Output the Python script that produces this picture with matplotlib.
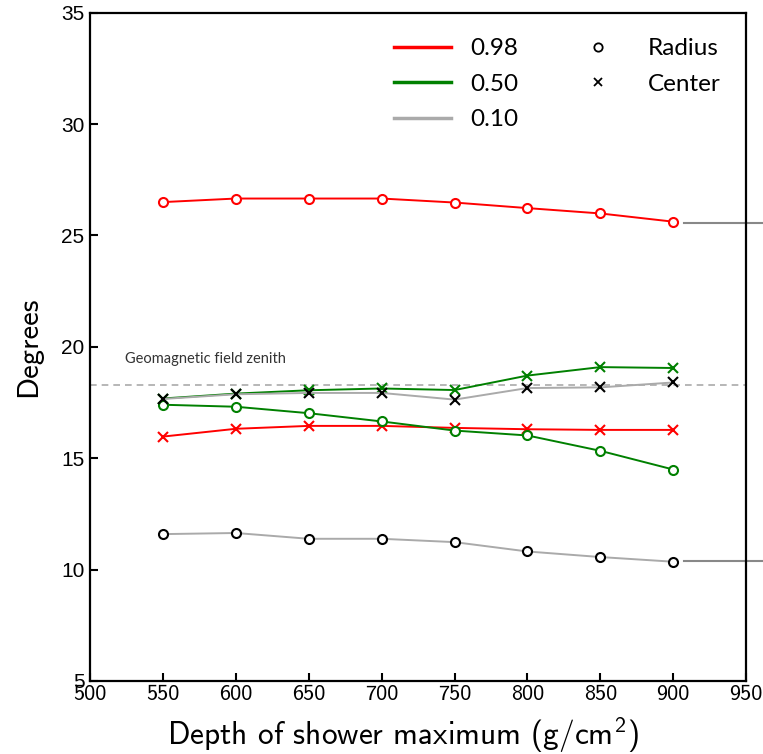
import matplotlib
matplotlib.use("Agg")
import matplotlib.pyplot as plt
from matplotlib.lines import Line2D

# depth of shower maximum (g/cm^2)
depth = [550, 600, 650, 700, 750, 800, 850, 900]

# radius of the ring (degrees)
radius_098 = [26.50, 26.66, 26.66, 26.66, 26.48, 26.23, 25.99, 25.62]
radius_050 = [17.40, 17.31, 17.02, 16.65, 16.24, 16.02, 15.33, 14.49]
radius_010 = [11.59, 11.64, 11.38, 11.38, 11.23, 10.81, 10.56, 10.35]

# center of the ring (degrees)
center_098 = [15.97, 16.32, 16.45, 16.45, 16.36, 16.30, 16.27, 16.27]
center_050 = [17.68, 17.90, 18.05, 18.13, 18.06, 18.71, 19.09, 19.05]
center_010 = [17.66, 17.87, 17.93, 17.93, 17.63, 18.15, 18.18, 18.40]

fractions = ['0.98', '0.50', '0.10']
geomag_zenith = 18.27
side_levels = [25.58, 10.39]

plt.rcParams['mathtext.fontset'] = 'custom'
plt.rcParams['mathtext.rm'] = 'cmss10'
plt.rcParams['mathtext.it'] = 'cmss10'

fig = plt.figure(figsize=(7.63, 7.54), dpi=100)
ax = fig.add_axes([0.118, 0.097, 0.86, 0.886])

red, green, grey = 'red', 'green', '#aaaaaa'
ms, lw = 6.5, 1.4

ax.axhline(geomag_zenith, color=grey, lw=1.2, ls=(0, (4, 3)), zorder=1)
ax.text(524, 19.45, 'Geomagnetic field zenith', fontsize=10.5, color='#333333',
        family='Lato', va='center')

ax.plot(depth, radius_098, color=red, lw=lw, marker='o', ms=ms, mfc='white', mew=1.5)
ax.plot(depth, center_098, color=red, lw=lw, marker='x', ms=ms, mew=1.5)
ax.plot(depth, radius_050, color=green, lw=lw, marker='o', ms=ms, mfc='white', mew=1.5)
ax.plot(depth, center_050, color=green, lw=lw, marker='x', ms=ms, mew=1.5)
ax.plot(depth, radius_010, color=grey, lw=lw, marker='o', ms=ms, mfc='white', mec='k', mew=1.5)
ax.plot(depth, center_010, color=grey, lw=lw, marker='x', ms=ms, mec='k', mew=1.5)

# short reference lines at the right edge
for lvl in side_levels:
    ax.plot([907, 985], [lvl, lvl], color='#888888', lw=1.5, clip_on=False)

ax.set_xlim(500, 950)
ax.set_ylim(5, 35)
ax.set_xticks(range(500, 951, 50))
ax.set_yticks(range(5, 36, 5))
ax.tick_params(direction='in', length=6, width=1.5, top=False, right=False)
ax.tick_params(axis='x', labelfontfamily='cmss10', labelsize=16, pad=3)
ax.tick_params(axis='y', labelfontfamily='Liberation Sans', labelsize=15, pad=4)
for s in ax.spines.values():
    s.set_linewidth(1.6)

ax.set_xlabel('Depth of shower maximum (g/cm$^2$)', family='cmss10', fontsize=22.5)
ax.xaxis.set_label_coords(0.477, -0.052)
ax.set_ylabel('Degrees', family='cmss10', fontsize=22, labelpad=14)

line_handles = [Line2D([], [], color=c, lw=2.5) for c in (red, green, grey)]
leg1 = ax.legend(line_handles, fractions, loc='upper left', bbox_to_anchor=(0.43, 0.995),
                 frameon=False, handlelength=2.35, prop={'family': 'Lato', 'size': 17.5},
                 labelspacing=0.6, handletextpad=0.8)
ax.add_artist(leg1)
mark_handles = [Line2D([], [], color='k', ls='none', marker='o', ms=6, mfc='white', mew=1.3),
                Line2D([], [], color='k', ls='none', marker='x', ms=6, mew=1.3)]
ax.legend(mark_handles, ['Radius', 'Center'], loc='upper left', bbox_to_anchor=(0.713, 0.995),
          frameon=False, handlelength=1.5, prop={'family': 'Lato', 'size': 17.5},
          labelspacing=0.6, handletextpad=1.3)

fig.savefig('out.png', dpi=100)
